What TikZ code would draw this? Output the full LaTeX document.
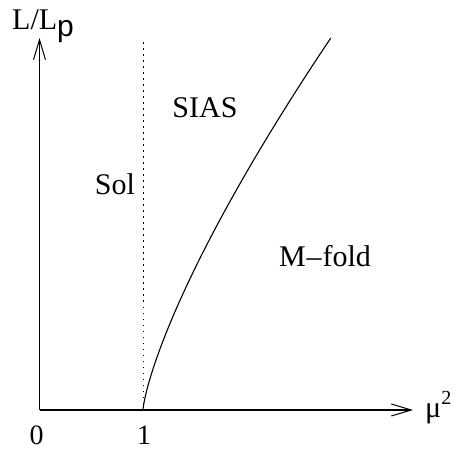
\documentclass[tikz,border=0pt]{standalone}
\usepackage{fontspec}
\setmainfont{Liberation Serif}
\newfontfamily\helv{Liberation Sans}
\usetikzlibrary{arrows.meta}
\begin{document}
\begin{tikzpicture}[x=1pt,y=-1pt,
  axis/.style={line width=1.2pt,-{Straight Barb[length=20pt,width=12pt,line width=1pt]}},
  lbl/.style={font=\fontsize{30}{36}\selectfont,inner sep=0pt},
  phase/.style={line width=1.1pt}]
\useasboundingbox (0,0) rectangle (458,449);
\coordinate (O) at (39.5,410);
\coordinate (Ytop) at (39.5,38);
\coordinate (Xend) at (413,410);
\coordinate (One) at (143,410);
\coordinate (Dtop) at (143,38);
\draw[axis] (O) -- (Ytop);
\draw[axis] (O) -- (Xend);
\draw[line width=1pt,dash pattern=on 1.5pt off 4.5pt] (One) -- (Dtop);
\draw[phase] plot[domain=0.001:372,samples=90,variable=\d,smooth] ({143+0.0716*(\d)^1.33},{410-\d});
\node[lbl,anchor=base west] (ylab) at (12,30) {L/L\raisebox{-7pt}{\helv p}};
\node[lbl,anchor=base west] (xlab) at (425,417) {μ\raisebox{13pt}{\fontsize{20}{24}\selectfont 2}};
\node[lbl,anchor=base,font=\fontsize{28}{30}\selectfont] (zero) at (36.5,444) {0};
\node[lbl,anchor=base,font=\fontsize{28}{30}\selectfont] (one) at (144,444) {1};
\node[lbl] (sol) at (115,184) {Sol};
\node[lbl] (sias) at (205,108) {SIAS};
\node[lbl] (mfold) at (325,256) {M\hspace{1pt}–\hspace{1pt}fold};
\end{tikzpicture}
\end{document}
